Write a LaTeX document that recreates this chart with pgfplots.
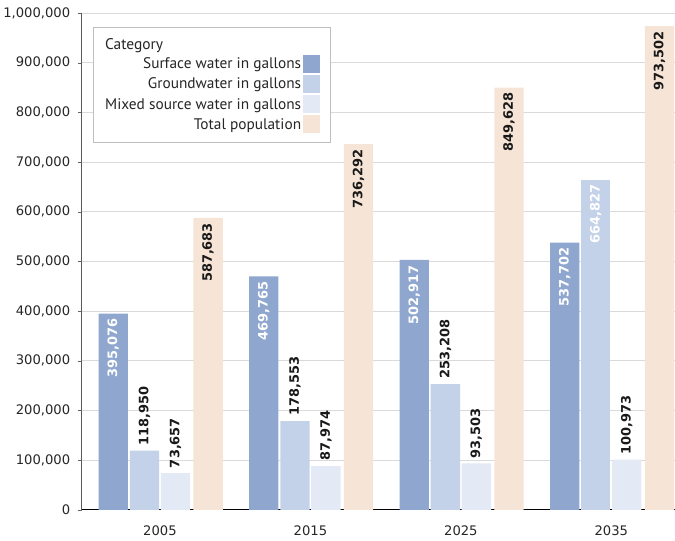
\documentclass[border=0pt]{standalone}
\usepackage{fontspec}
\setmainfont{PT Sans}
\newfontfamily\numfont{DejaVu Sans}
\usepackage{pgfplots}
\pgfplotsset{compat=1.18}
\definecolor{csurf}{HTML}{8FA7CF}
\definecolor{cground}{HTML}{C3D2E8}
\definecolor{cmixed}{HTML}{E3EAF5}
\definecolor{ctotal}{HTML}{F6E4D6}
\definecolor{cgrid}{HTML}{DADADA}
\begin{document}
\begin{tikzpicture}
\begin{axis}[
  name=main,
  scale only axis,
  width=593bp, height=497bp,
  xmin=-0.52, xmax=3.42,
  ymin=0, ymax=1000000,
  ytick={0,100000,...,1000000},
  scaled y ticks=false,
  /pgf/number format/.cd, fixed, 1000 sep={,}, assume math mode=true, /pgfplots/.cd,
  yticklabel style={font=\numfont\fontsize{13.2}{13.2}\selectfont, text=black!85, xshift=-4bp},
  xticklabel style={font=\numfont\fontsize{13.2}{13.2}\selectfont, text=black!85, yshift=-8bp},
  xtick={0,1,2,3},
  xticklabels={2005,2015,2025,2035},
  x tick style={draw=none},
  y tick style={draw=black!60},
  tick align=outside,
  major tick length=4bp,
  extra x ticks={0.5,1.5,2.5},
  extra x tick labels={},
  extra x tick style={tick align=inside, major tick length=12bp, tick style={draw=black, thick}},
  ymajorgrids,
  grid style={cgrid, line width=0.8pt},
  axis x line*=bottom,
  axis y line*=left,
  axis line style={-},
  x axis line style={black, line width=1pt},
  y axis line style={black!65, line width=0.8pt},
  ybar, bar width=0.195,
  legend plot pos=right,
  legend cell align=right,
  legend style={at={(0.019,0.972)}, anchor=north west, draw=black!25, fill=white,
    font=\fontsize{15.4}{15.4}\selectfont, text=black!85, row sep=2.6bp, inner xsep=10bp, inner ysep=9bp},
  legend image code/.code={\fill[#1, draw=none] (0bp,-8.5bp) rectangle (17bp,9bp);},
  nodes near coords,
  every node near coord/.append style={rotate=90, font=\numfont\fontsize{13}{13}\selectfont\bfseries, inner sep=5bp},
]
\addlegendimage{empty legend}
\addlegendentry{\rlap{\fontsize{15.5}{15.5}\selectfont Category}\phantom{Mixed source water in gallons}}
\addplot[fill=csurf, draw=none, bar shift=-0.31,
  every node near coord/.append style={anchor=east, text=white}]
  coordinates {(0,395076) (1,469765) (2,502917) (3,537702)};
\addlegendentry{Surface water in gallons}
\addplot[fill=cground, draw=none, bar shift=-0.103,
  every node near coord/.append style={anchor=west, text=black!90}]
  coordinates {(0,118950) (1,178553) (2,253208)};
\addlegendentry{Groundwater in gallons}
\addplot[fill=cmixed, draw=none, bar shift=0.103,
  every node near coord/.append style={anchor=west, text=black!90}]
  coordinates {(0,73657) (1,87974) (2,93503) (3,100973)};
\addlegendentry{Mixed source water in gallons}
\addplot[fill=ctotal, draw=none, bar shift=0.32,
  every node near coord/.append style={anchor=east, text=black!90}]
  coordinates {(0,587683) (1,736292) (2,849628) (3,973502)};
\addlegendentry{Total population}
\addplot[fill=cground, draw=none, bar shift=-0.103, forget plot,
  every node near coord/.append style={anchor=east, text=white}]
  coordinates {(3,664827)};
\end{axis}
\path (main.north east) ++(0,13bp) coordinate (tp);
\path (main.south east) ++(0,-31bp) coordinate (bt);
\end{tikzpicture}
\end{document}
